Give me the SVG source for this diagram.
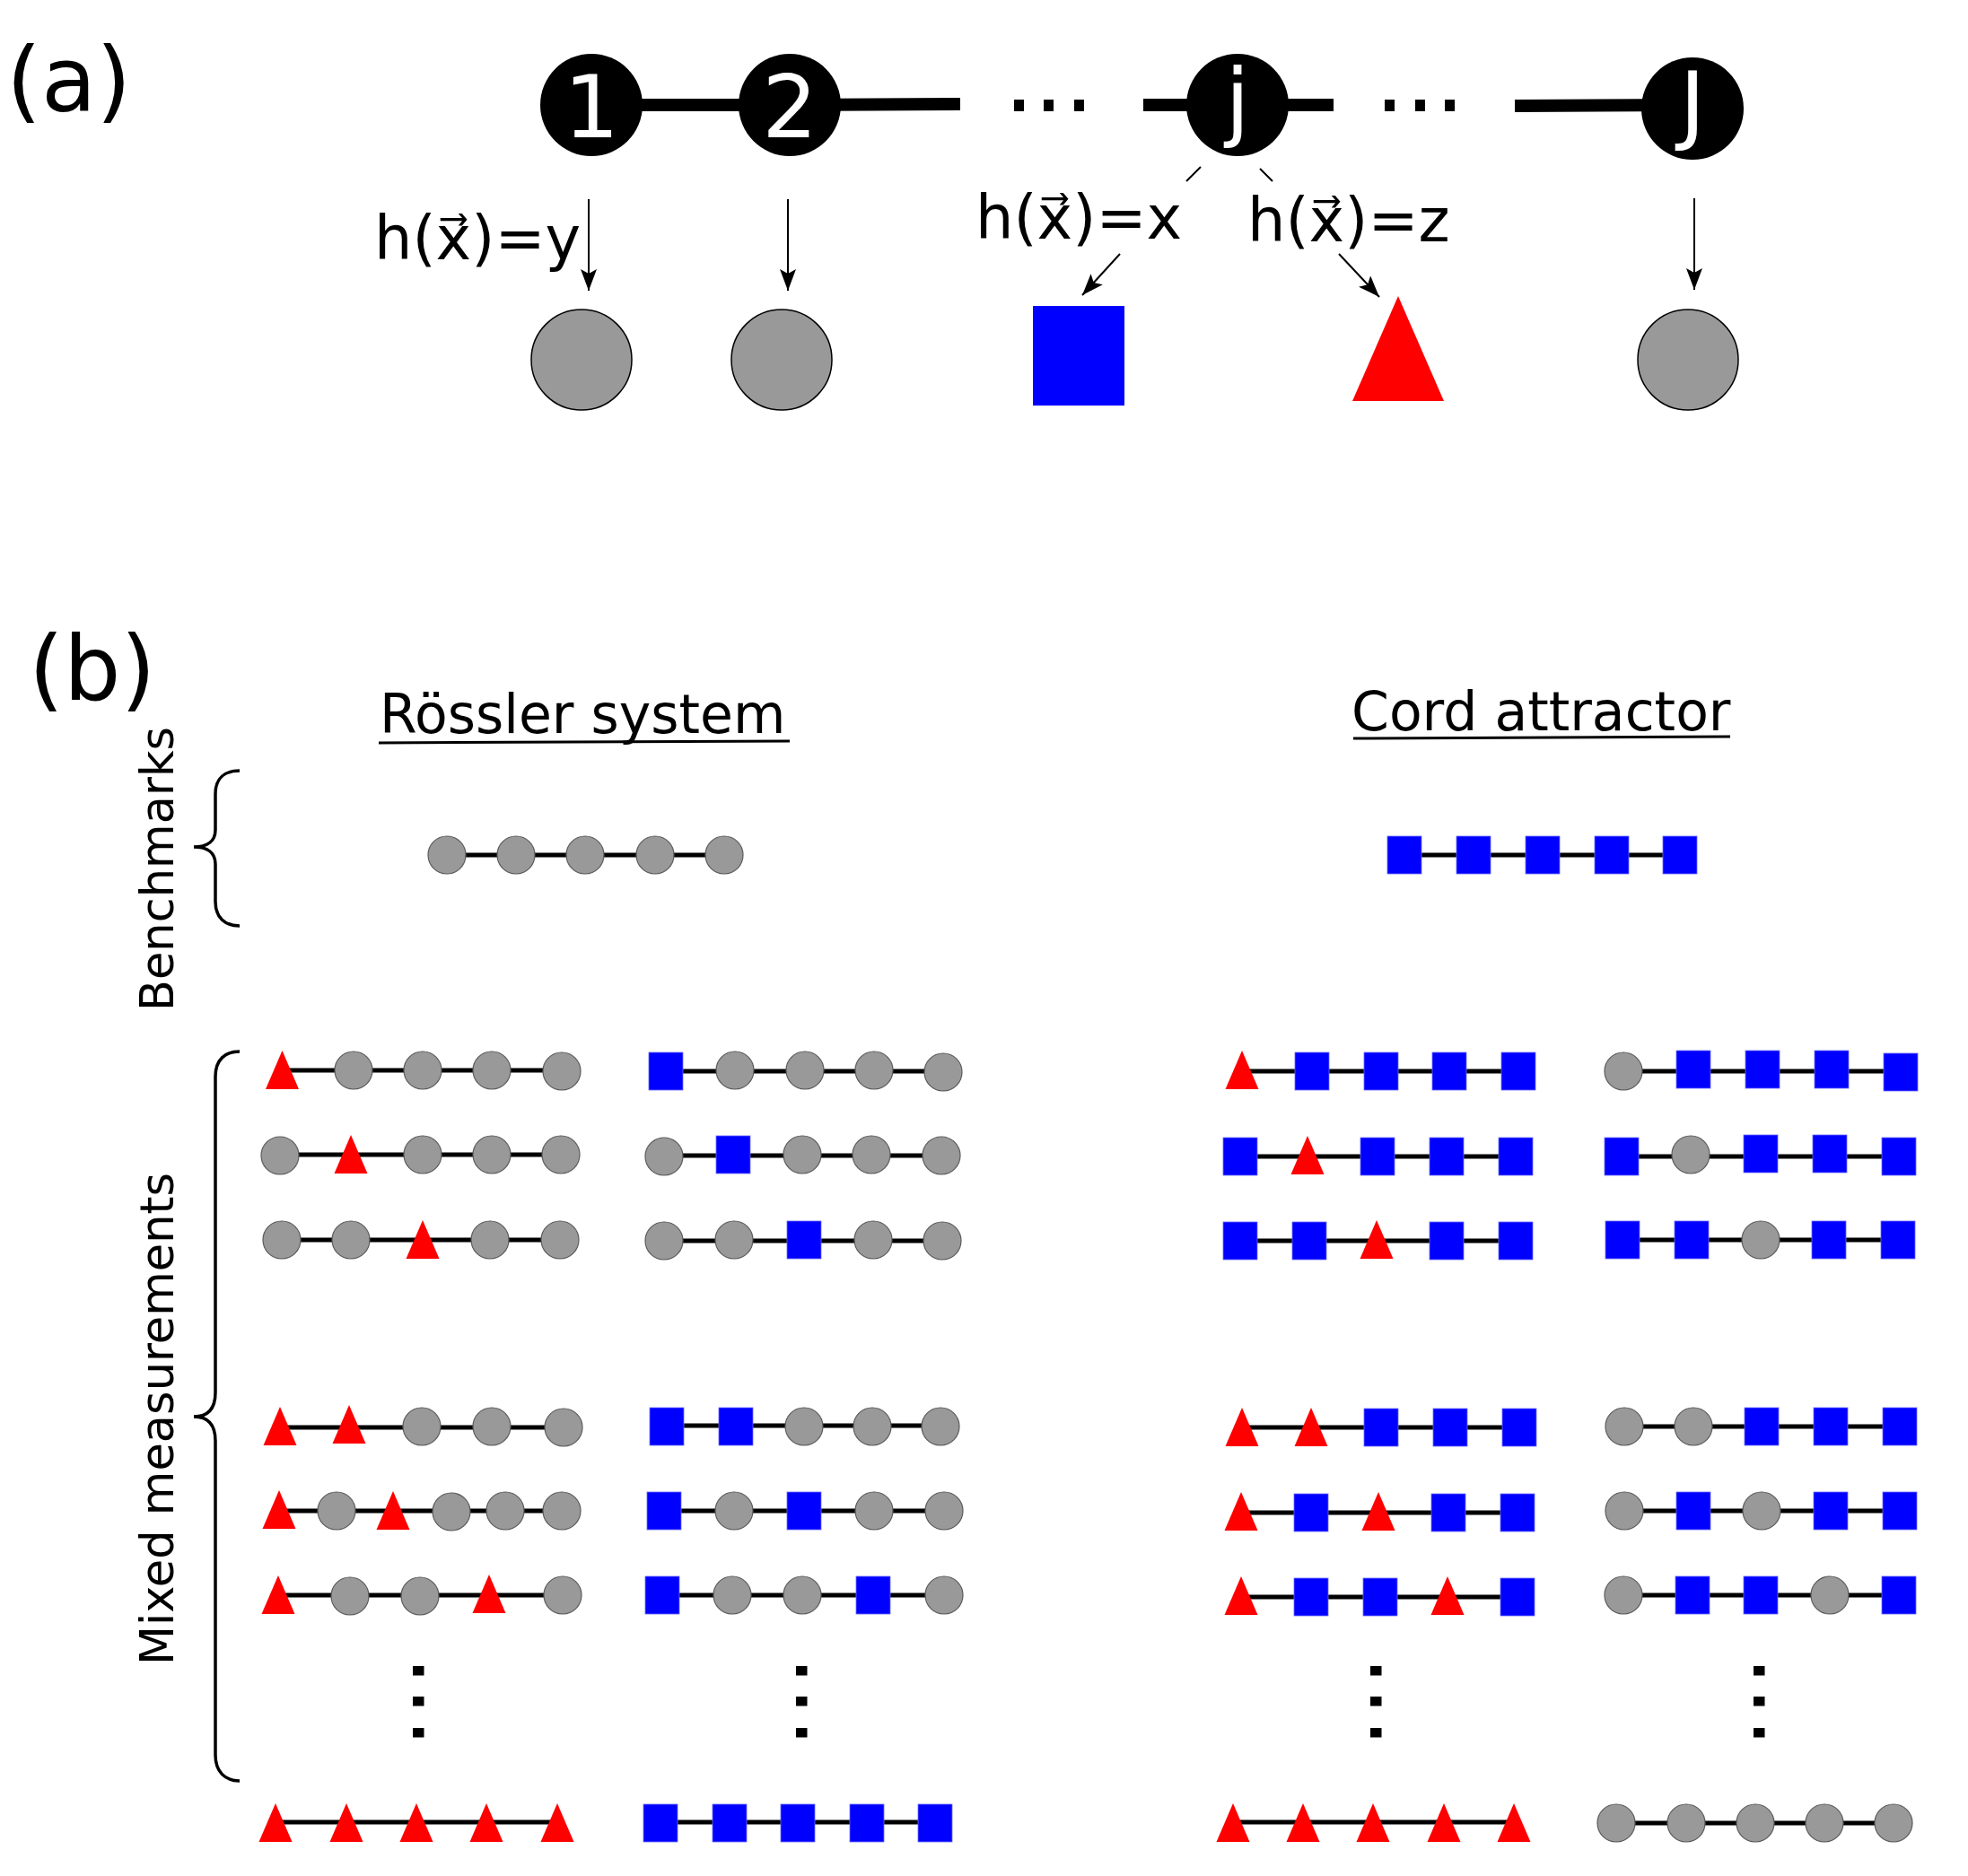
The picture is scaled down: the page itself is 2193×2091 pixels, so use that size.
<svg xmlns="http://www.w3.org/2000/svg" xmlns:xlink="http://www.w3.org/1999/xlink" width="2193" height="2091" viewBox="0 0 2193 2091">
<style>
text{font-family:"DejaVu Sans","Liberation Sans",sans-serif;fill:#000}
.panel{font-size:100px}
.lbl{font-size:67px}
.title{font-size:60px}
.side{font-size:51px}
.num{font-size:97px;fill:#fff;text-anchor:middle}
.edge{stroke:#000;stroke-width:14;fill:none}
.arr{stroke:#000;stroke-width:2;fill:none;marker-end:url(#ah)}
.thin{stroke:#000;stroke-width:2;fill:none}
.chain{stroke:#000;stroke-width:5;fill:none}
.brace{stroke:#000;stroke-width:3.5;fill:none}
.ul{stroke:#000;stroke-width:3;fill:none}
.big{fill:#000}
.gc{fill:#999;stroke:#000;stroke-width:1.5}
.c{fill:#999;stroke:#5a5a5a;stroke-width:1.2}
.s{fill:#0000ff;stroke:#6b6bff;stroke-width:0.8}
.t{fill:#ff0000}
.dot{fill:#000}
</style>
<defs>
<marker id="ah" viewBox="0 0 24 18" refX="24" refY="9" markerWidth="24" markerHeight="18" markerUnits="userSpaceOnUse" orient="auto">
<path d="M0,0 L24,9 L0,18 L5,9 z" fill="#000"/>
</marker>
<circle id="C" class="c" cx="0" cy="0" r="21"/>
<rect id="S" class="s" x="-19" y="-21" width="38" height="42"/>
<polygon id="T" class="t" points="0,-22 18.5,21 -18.5,21"/>
</defs>
<rect width="2193" height="2091" fill="#fff"/>

<g id="labels">
<text class="panel" x="7" y="124">(a)</text>
<text class="panel" x="32" y="780">(b)</text>
<text class="lbl" x="417" y="289">h(x⃗)=y</text>
<text class="lbl" x="1087" y="266">h(x⃗)=x</text>
<text class="lbl" x="1390" y="269">h(x⃗)=z</text>
<text class="title" x="423" y="817">Rössler system</text>
<text class="title" x="1506" y="814">Cord attractor</text>
<text class="side" transform="translate(193,1127) rotate(-90)">Benchmarks</text>
<text class="side" transform="translate(193,1856) rotate(-90)">Mixed measurements</text>
</g>

<g id="connectors">
<line class="edge" x1="659" y1="117" x2="880" y2="117"/>
<line class="edge" x1="880" y1="117" x2="1070" y2="116"/>
<line class="edge" x1="1274" y1="117" x2="1486" y2="117"/>
<line class="edge" x1="1688" y1="118" x2="1886" y2="117"/>
<line class="arr" x1="656" y1="222" x2="656" y2="324"/>
<line class="arr" x1="878" y1="222" x2="878" y2="324"/>
<line class="arr" x1="1888" y1="221" x2="1888" y2="323"/>
<line class="arr" x1="1248" y1="283" x2="1206" y2="329"/>
<line class="arr" x1="1492" y1="283" x2="1537" y2="331"/>
<line class="thin" x1="1338" y1="186" x2="1322" y2="202"/>
<line class="thin" x1="1404" y1="188" x2="1418" y2="202"/>
<path class="ul" d="M422,828 L880,826"/>
<path class="ul" d="M1508,823 L1928,821"/>
<path class="brace" d="M267,859 C251,859 240,867 240,885 L240,925 C240,937 232,944 216,944 C232,944 240,951 240,963 L240,1005 C240,1023 251,1032 267,1032"/>
<path class="brace" d="M267,1172 C251,1172 240,1181 240,1200 L240,1552 C240,1570 232,1579 216,1579 C232,1579 240,1588 240,1606 L240,1956 C240,1975 251,1985 267,1985"/>
<!-- chain lines -->
<line class="chain" x1="498" y1="953" x2="807" y2="953"/>
<line class="chain" x1="1565" y1="953" x2="1872" y2="953"/>
<line class="chain" x1="314" y1="1193" x2="626" y2="1193"/>
<line class="chain" x1="742" y1="1194" x2="1051" y2="1194"/>
<line class="chain" x1="1384" y1="1194" x2="1692" y2="1194"/>
<line class="chain" x1="1809" y1="1194" x2="2118" y2="1194"/>
<line class="chain" x1="312" y1="1287" x2="625" y2="1287"/>
<line class="chain" x1="740" y1="1288" x2="1049" y2="1288"/>
<line class="chain" x1="1382" y1="1289" x2="1689" y2="1289"/>
<line class="chain" x1="1807" y1="1289" x2="2116" y2="1289"/>
<line class="chain" x1="314" y1="1382" x2="624" y2="1382"/>
<line class="chain" x1="740" y1="1383" x2="1050" y2="1383"/>
<line class="chain" x1="1382" y1="1383" x2="1689" y2="1383"/>
<line class="chain" x1="1808" y1="1382" x2="2115" y2="1382"/>
<line class="chain" x1="312" y1="1591" x2="628" y2="1591"/>
<line class="chain" x1="743" y1="1589" x2="1048" y2="1589"/>
<line class="chain" x1="1384" y1="1591" x2="1693" y2="1591"/>
<line class="chain" x1="1810" y1="1590" x2="2117" y2="1590"/>
<line class="chain" x1="311" y1="1684" x2="626" y2="1684"/>
<line class="chain" x1="740" y1="1684" x2="1052" y2="1684"/>
<line class="chain" x1="1383" y1="1686" x2="1691" y2="1686"/>
<line class="chain" x1="1810" y1="1684" x2="2117" y2="1684"/>
<line class="chain" x1="310" y1="1778" x2="627" y2="1778"/>
<line class="chain" x1="738" y1="1778" x2="1052" y2="1778"/>
<line class="chain" x1="1383" y1="1780" x2="1691" y2="1780"/>
<line class="chain" x1="1809" y1="1778" x2="2116" y2="1778"/>
<line class="chain" x1="307" y1="2031" x2="621" y2="2031"/>
<line class="chain" x1="736" y1="2031" x2="1042" y2="2031"/>
<line class="chain" x1="1374" y1="2031" x2="1687" y2="2031"/>
<line class="chain" x1="1801" y1="2032" x2="2110" y2="2032"/>
</g>

<g id="ellipsis">
<rect class="dot" x="1130" y="111" width="11" height="13"/>
<rect class="dot" x="1163" y="111" width="11" height="13"/>
<rect class="dot" x="1197" y="111" width="11" height="13"/>
<rect class="dot" x="1543" y="111" width="11" height="13"/>
<rect class="dot" x="1577" y="111" width="11" height="13"/>
<rect class="dot" x="1610" y="111" width="11" height="13"/>
<rect class="dot" x="460" y="1857" width="12.5" height="10.5"/>
<rect class="dot" x="460" y="1891" width="12.5" height="10.5"/>
<rect class="dot" x="460" y="1926" width="12.5" height="10.5"/>
<rect class="dot" x="887" y="1857" width="12.5" height="10.5"/>
<rect class="dot" x="887" y="1891" width="12.5" height="10.5"/>
<rect class="dot" x="887" y="1926" width="12.5" height="10.5"/>
<rect class="dot" x="1527" y="1857" width="12.5" height="10.5"/>
<rect class="dot" x="1527" y="1891" width="12.5" height="10.5"/>
<rect class="dot" x="1527" y="1926" width="12.5" height="10.5"/>
<rect class="dot" x="1954" y="1857" width="12.5" height="10.5"/>
<rect class="dot" x="1954" y="1891" width="12.5" height="10.5"/>
<rect class="dot" x="1954" y="1926" width="12.5" height="10.5"/>
</g>

<g id="node-1"><circle class="big" cx="659" cy="117" r="57"/><text class="num" x="659" y="153">1</text></g>
<g id="node-2"><circle class="big" cx="880" cy="117" r="57"/><text class="num" x="880" y="153">2</text></g>
<g id="node-j"><circle class="big" cx="1379" cy="117" r="57"/><text class="num" x="1379" y="145">j</text></g>
<g id="node-J"><circle class="big" cx="1886" cy="121" r="57"/><text class="num" x="1886" y="149">J</text></g>

<g id="meas-1"><circle class="gc" cx="648" cy="401" r="56"/></g>
<g id="meas-2"><circle class="gc" cx="871" cy="401" r="56"/></g>
<g id="meas-x"><rect x="1151" y="341" width="102" height="111" fill="#0000ff"/></g>
<g id="meas-z"><polygon points="1558,330 1609,447 1507,447" fill="#ff0000"/></g>
<g id="meas-J"><circle class="gc" cx="1881" cy="401" r="56"/></g>

<g id="bench-rossler">
<use href="#C" x="498" y="953"/><use href="#C" x="575" y="953"/><use href="#C" x="652" y="953"/><use href="#C" x="730" y="953"/><use href="#C" x="807" y="953"/>
</g>
<g id="bench-cord">
<use href="#S" x="1565" y="953"/><use href="#S" x="1642" y="953"/><use href="#S" x="1719" y="953"/><use href="#S" x="1796" y="953"/><use href="#S" x="1872" y="953"/>
</g>

<g id="row1-A"><use href="#T" x="314.5" y="1193"/><use href="#C" x="394" y="1193"/><use href="#C" x="471" y="1193"/><use href="#C" x="548" y="1193"/><use href="#C" x="626" y="1194"/></g>
<g id="row1-B"><use href="#S" x="742" y="1194"/><use href="#C" x="819" y="1193"/><use href="#C" x="897" y="1193"/><use href="#C" x="974" y="1193"/><use href="#C" x="1051" y="1195"/></g>
<g id="row1-C"><use href="#T" x="1384" y="1193"/><use href="#S" x="1462" y="1194"/><use href="#S" x="1539" y="1194"/><use href="#S" x="1615" y="1194"/><use href="#S" x="1692" y="1194"/></g>
<g id="row1-D"><use href="#C" x="1809" y="1194"/><use href="#S" x="1887" y="1192"/><use href="#S" x="1964" y="1192"/><use href="#S" x="2041" y="1192"/><use href="#S" x="2118" y="1195"/></g>

<g id="row2-A"><use href="#C" x="312" y="1288"/><use href="#T" x="391" y="1287"/><use href="#C" x="471" y="1287"/><use href="#C" x="548" y="1287"/><use href="#C" x="625" y="1287"/></g>
<g id="row2-B"><use href="#C" x="740" y="1289"/><use href="#S" x="817" y="1287"/><use href="#C" x="894" y="1287"/><use href="#C" x="971" y="1287"/><use href="#C" x="1049" y="1288"/></g>
<g id="row2-C"><use href="#S" x="1382" y="1289"/><use href="#T" x="1457" y="1288"/><use href="#S" x="1535" y="1289"/><use href="#S" x="1612" y="1289"/><use href="#S" x="1689" y="1289"/></g>
<g id="row2-D"><use href="#S" x="1807" y="1289"/><use href="#C" x="1884" y="1287"/><use href="#S" x="1962" y="1286"/><use href="#S" x="2039" y="1286"/><use href="#S" x="2116" y="1289"/></g>

<g id="row3-A"><use href="#C" x="314" y="1382"/><use href="#C" x="391" y="1382"/><use href="#T" x="471" y="1382"/><use href="#C" x="546" y="1382"/><use href="#C" x="624" y="1382"/></g>
<g id="row3-B"><use href="#C" x="740" y="1383"/><use href="#C" x="818" y="1382"/><use href="#S" x="896" y="1382"/><use href="#C" x="973" y="1382"/><use href="#C" x="1050" y="1383"/></g>
<g id="row3-C"><use href="#S" x="1382" y="1383"/><use href="#S" x="1459" y="1383"/><use href="#T" x="1534" y="1382"/><use href="#S" x="1612" y="1383"/><use href="#S" x="1689" y="1383"/></g>
<g id="row3-D"><use href="#S" x="1808" y="1382"/><use href="#S" x="1885" y="1382"/><use href="#C" x="1962" y="1382"/><use href="#S" x="2038" y="1382"/><use href="#S" x="2115" y="1382"/></g>

<g id="row4-A"><use href="#T" x="312" y="1590"/><use href="#T" x="389" y="1588"/><use href="#C" x="470" y="1590"/><use href="#C" x="548" y="1590"/><use href="#C" x="628" y="1591"/></g>
<g id="row4-B"><use href="#S" x="743" y="1590"/><use href="#S" x="820" y="1590"/><use href="#C" x="896" y="1590"/><use href="#C" x="972" y="1590"/><use href="#C" x="1048" y="1590"/></g>
<g id="row4-C"><use href="#T" x="1384" y="1591"/><use href="#T" x="1461" y="1591"/><use href="#S" x="1539" y="1591"/><use href="#S" x="1616" y="1591"/><use href="#S" x="1693" y="1591"/></g>
<g id="row4-D"><use href="#C" x="1810" y="1590"/><use href="#C" x="1887" y="1590"/><use href="#S" x="1963" y="1590"/><use href="#S" x="2040" y="1590"/><use href="#S" x="2117" y="1590"/></g>

<g id="row5-A"><use href="#T" x="311" y="1683"/><use href="#C" x="375" y="1684"/><use href="#T" x="438" y="1684"/><use href="#C" x="503" y="1685"/><use href="#C" x="563" y="1684"/><use href="#C" x="626" y="1684"/></g>
<g id="row5-B"><use href="#S" x="740" y="1684"/><use href="#C" x="818" y="1684"/><use href="#S" x="896" y="1684"/><use href="#C" x="974" y="1684"/><use href="#C" x="1052" y="1684"/></g>
<g id="row5-C"><use href="#T" x="1383" y="1685"/><use href="#S" x="1461" y="1686"/><use href="#T" x="1536" y="1685"/><use href="#S" x="1614" y="1686"/><use href="#S" x="1691" y="1686"/></g>
<g id="row5-D"><use href="#C" x="1810" y="1684"/><use href="#S" x="1887" y="1684"/><use href="#C" x="1963" y="1684"/><use href="#S" x="2040" y="1684"/><use href="#S" x="2117" y="1684"/></g>

<g id="row6-A"><use href="#T" x="310" y="1778"/><use href="#C" x="390" y="1779"/><use href="#C" x="468" y="1779"/><use href="#T" x="545" y="1777"/><use href="#C" x="627" y="1778"/></g>
<g id="row6-B"><use href="#S" x="738" y="1778"/><use href="#C" x="816" y="1778"/><use href="#C" x="894" y="1778"/><use href="#S" x="973" y="1778"/><use href="#C" x="1052" y="1778"/></g>
<g id="row6-C"><use href="#T" x="1383" y="1779"/><use href="#S" x="1461" y="1780"/><use href="#S" x="1538" y="1780"/><use href="#T" x="1613" y="1779"/><use href="#S" x="1691" y="1780"/></g>
<g id="row6-D"><use href="#C" x="1809" y="1778"/><use href="#S" x="1886" y="1778"/><use href="#S" x="1962" y="1778"/><use href="#C" x="2039" y="1778"/><use href="#S" x="2116" y="1778"/></g>

<g id="last-A"><use href="#T" x="307" y="2032"/><use href="#T" x="386" y="2032"/><use href="#T" x="464" y="2032"/><use href="#T" x="542" y="2032"/><use href="#T" x="621" y="2032"/></g>
<g id="last-B"><use href="#S" x="736" y="2032"/><use href="#S" x="813" y="2032"/><use href="#S" x="889" y="2032"/><use href="#S" x="966" y="2032"/><use href="#S" x="1042" y="2032"/></g>
<g id="last-C"><use href="#T" x="1374" y="2032"/><use href="#T" x="1452" y="2032"/><use href="#T" x="1530" y="2032"/><use href="#T" x="1609" y="2032"/><use href="#T" x="1687" y="2032"/></g>
<g id="last-D"><use href="#C" x="1801" y="2032"/><use href="#C" x="1879" y="2032"/><use href="#C" x="1956" y="2032"/><use href="#C" x="2033" y="2032"/><use href="#C" x="2110" y="2032"/></g>
</svg>
